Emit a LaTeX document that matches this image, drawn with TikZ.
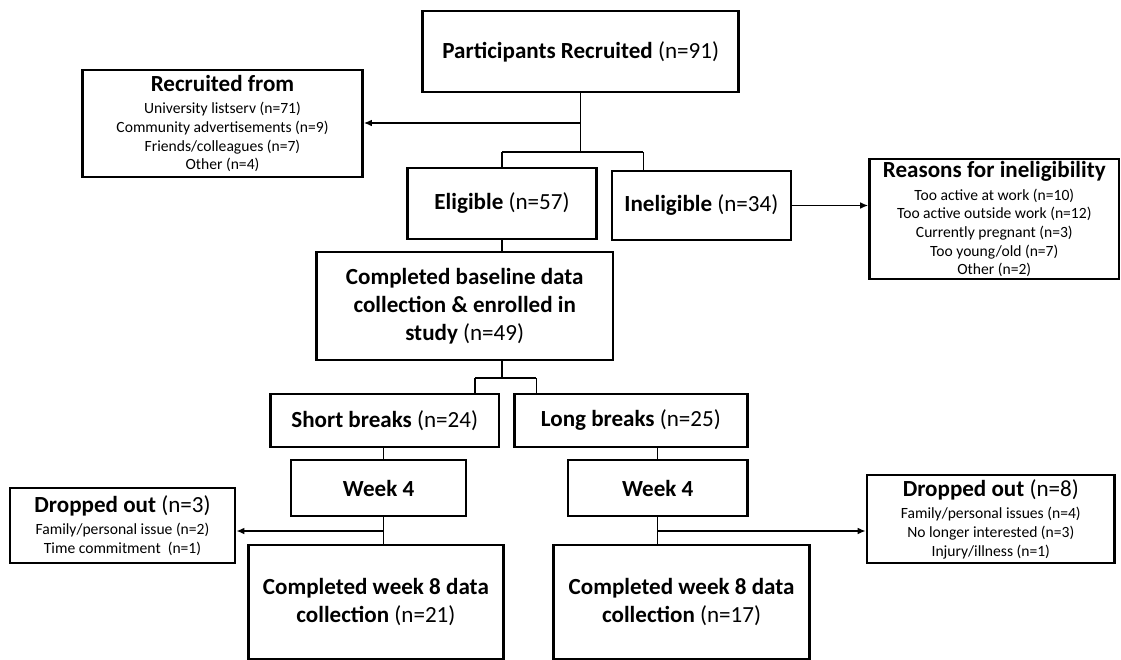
\documentclass[tikz,border=0pt]{standalone}
\usepackage{fontspec}
\setmainfont{Carlito}
\usepackage{xcolor}
\usepackage{tikz}
\usetikzlibrary{arrows.meta}

\begin{document}
\begin{tikzpicture}[x=0.75pt,y=-0.75pt,
  box/.style={draw,line width=2pt,align=center,inner sep=0pt},
  bigbox/.style={box,font=\fontsize{17.3}{21}\selectfont},
  listbox/.style={box,font=\fontsize{11.7}{14}\selectfont},
  link/.style={line width=1.1pt},
  arrow/.style={link,-{Latex[length=6pt,width=5pt]}}]
\useasboundingbox[fill=white] (0,0) rectangle (1121,660);
\newcommand{\heading}[1]{{\fontsize{17.3}{18}\selectfont #1}}
\node (recruited) at (580.7,51.5) [bigbox,minimum width=237pt,minimum height=60.75pt] {\textbf{Participants Recruited} (n=91)};
\node (source) at (222.5,123.5) [listbox,minimum width=210pt,minimum height=80.25pt] {\heading{\textbf{Recruited from}}\\[3pt] University listserv (n=71)\\ Community advertisements (n=9)\\ Friends/colleagues (n=7)\\ Other (n=4)};
\node (eligible) at (502,203.5) [bigbox,minimum width=141.75pt,minimum height=53.25pt] {\textbf{Eligible} (n=57)};
\node (ineligible) at (701.4,205.5) [bigbox,minimum width=134.25pt,minimum height=51.75pt] {\textbf{Ineligible} (n=34)};
\node (reasons) at (994.3,219) [listbox,minimum width=187.1pt,minimum height=90pt] {\heading{\textbf{Reasons for ineligibility}}\\[3pt] Too active at work (n=10)\\ Too active outside work (n=12)\\ Currently pregnant (n=3)\\ Too young/old (n=7)\\ Other (n=2)};
\node (baseline) at (464.7,306) [bigbox,minimum width=222.5pt,minimum height=81pt] {\textbf{Completed baseline data}\\ \textbf{collection \& enrolled in}\\ \textbf{study} (n=49)};
\node (short) at (384.7,420.5) [bigbox,minimum width=171.5pt,minimum height=39.75pt] {\textbf{Short breaks} (n=24)};
\node (long) at (630.9,420.5) [bigbox,minimum width=174.8pt,minimum height=39.75pt] {\textbf{Long breaks} (n=25)};
\node (weekA) at (378.6,488) [bigbox,minimum width=131.25pt,minimum height=42pt] {\textbf{Week 4}};
\node (weekB) at (657.7,488) [bigbox,minimum width=134.7pt,minimum height=42pt] {\textbf{Week 4}};
\node (dropA) at (122.5,525.5) [listbox,minimum width=168.75pt,minimum height=56.25pt] {\heading{\textbf{Dropped out} (n=3)}\\[3pt] Family/personal issue (n=2)\\ Time commitment\ \ (n=1)};
\node (dropB) at (990.8,519) [listbox,minimum width=185.7pt,minimum height=66pt] {\heading{\textbf{Dropped out} (n=8)}\\[3pt] Family/personal issues (n=4)\\ No longer interested (n=3)\\ Injury/illness (n=1)};
\node (doneA) at (375.9,602) [bigbox,minimum width=191.5pt,minimum height=85.5pt] {\textbf{Completed week 8 data}\\ \textbf{collection} (n=21)};
\node (doneB) at (681.6,602) [bigbox,minimum width=192pt,minimum height=85.5pt] {\textbf{Completed week 8 data}\\ \textbf{collection} (n=17)};
% split points
\coordinate (s1) at (580.7,152);
\coordinate (s1a) at (580.7,123);
\coordinate (e1) at (502,152);
\coordinate (i1) at (643.4,152);
\coordinate (b1) at (502,378);
\coordinate (b2) at (475,378);
\coordinate (b3) at (536.4,378);
\coordinate (wA) at (383.6,531);
\coordinate (wB) at (657.7,531);
\draw [link] (recruited.south) -- (s1);
\draw [arrow] (s1a) -- (source.east |- s1a);
\draw [link] (e1) -- (i1);
\draw [link] (e1) -- (eligible.north -| e1);
\draw [link] (i1) -- (ineligible.north -| i1);
\draw [arrow] (ineligible.east) -- (reasons.west |- ineligible.east);
\draw [link] (eligible.south -| e1) -- (baseline.north -| e1);
\draw [link] (baseline.south -| b1) -- (b1);
\draw [link] (b2) -- (b3);
\draw [link] (b2) -- (short.north -| b2);
\draw [link] (b3) -- (long.north -| b3);
\draw [link] (short.south -| wA) -- (weekA.north -| wA);
\draw [link] (weekA.south -| wA) -- (doneA.north -| wA);
\draw [arrow] (wA) -- (dropA.east |- wA);
\draw [link] (long.south -| wB) -- (weekB.north -| wB);
\draw [link] (weekB.south -| wB) -- (doneB.north -| wB);
\draw [arrow] (wB) -- (dropB.west |- wB);
\end{tikzpicture}
\end{document}
